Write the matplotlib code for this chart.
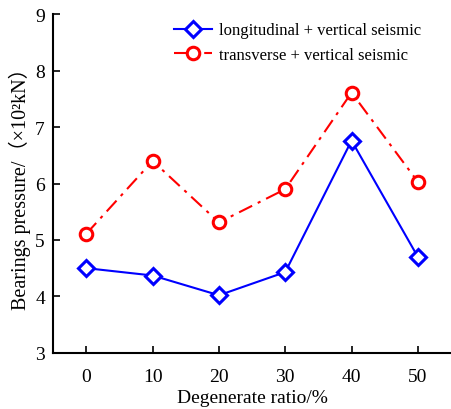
import matplotlib
matplotlib.use("Agg")
import matplotlib.pyplot as plt

plt.rcParams['font.family'] = ['Liberation Serif', 'Noto Sans CJK SC']

# degenerate ratio (%)
ratio = [0, 10, 20, 30, 40, 50]
# bearing pressure, x10^2 kN
longitudinal = [4.50, 4.37, 4.02, 4.43, 6.76, 4.70]
transverse = [5.11, 6.40, 5.31, 5.90, 7.61, 6.03]

fig = plt.figure(figsize=(4.51, 4.10), dpi=100)
ax = fig.add_axes([0.118, 0.137, 0.882, 0.826])

ax.plot(ratio, longitudinal, color='#0000ff', lw=1.5, marker='D', ms=8,
        mfc='white', mec='#0000ff', mew=2.2, label='longitudinal + vertical seismic')
ax.plot(ratio, transverse, color='#ff0000', lw=1.5, ls=(0, (7, 3, 1.5, 3)), marker='o', ms=9,
        mfc='white', mec='#ff0000', mew=2.2, label='transverse + vertical seismic')

ax.set_xlim(-5, 55)
ax.set_ylim(3, 9)
ax.set_xticks(ratio)
ax.set_yticks(range(3, 10))
ax.tick_params(direction='in', labelsize=14, length=5, width=1.2)
ax.tick_params(axis='x', pad=11)
ax.tick_params(axis='y', pad=6)
for s in ['top', 'right']:
    ax.spines[s].set_visible(False)
for s in ['left', 'bottom']:
    ax.spines[s].set_linewidth(1.5)

ax.set_xlabel('Degenerate ratio/%', fontsize=14, labelpad=3)
ax.set_ylabel('Bearings pressure/（×10²kN）', fontsize=14.5, labelpad=3)

ax.legend(loc='upper right', bbox_to_anchor=(0.953, 1.01), frameon=False, fontsize=12,
          handlelength=2.3, handletextpad=0.4, labelspacing=0.5, borderaxespad=0.3)

fig.savefig('out.png', dpi=100)
